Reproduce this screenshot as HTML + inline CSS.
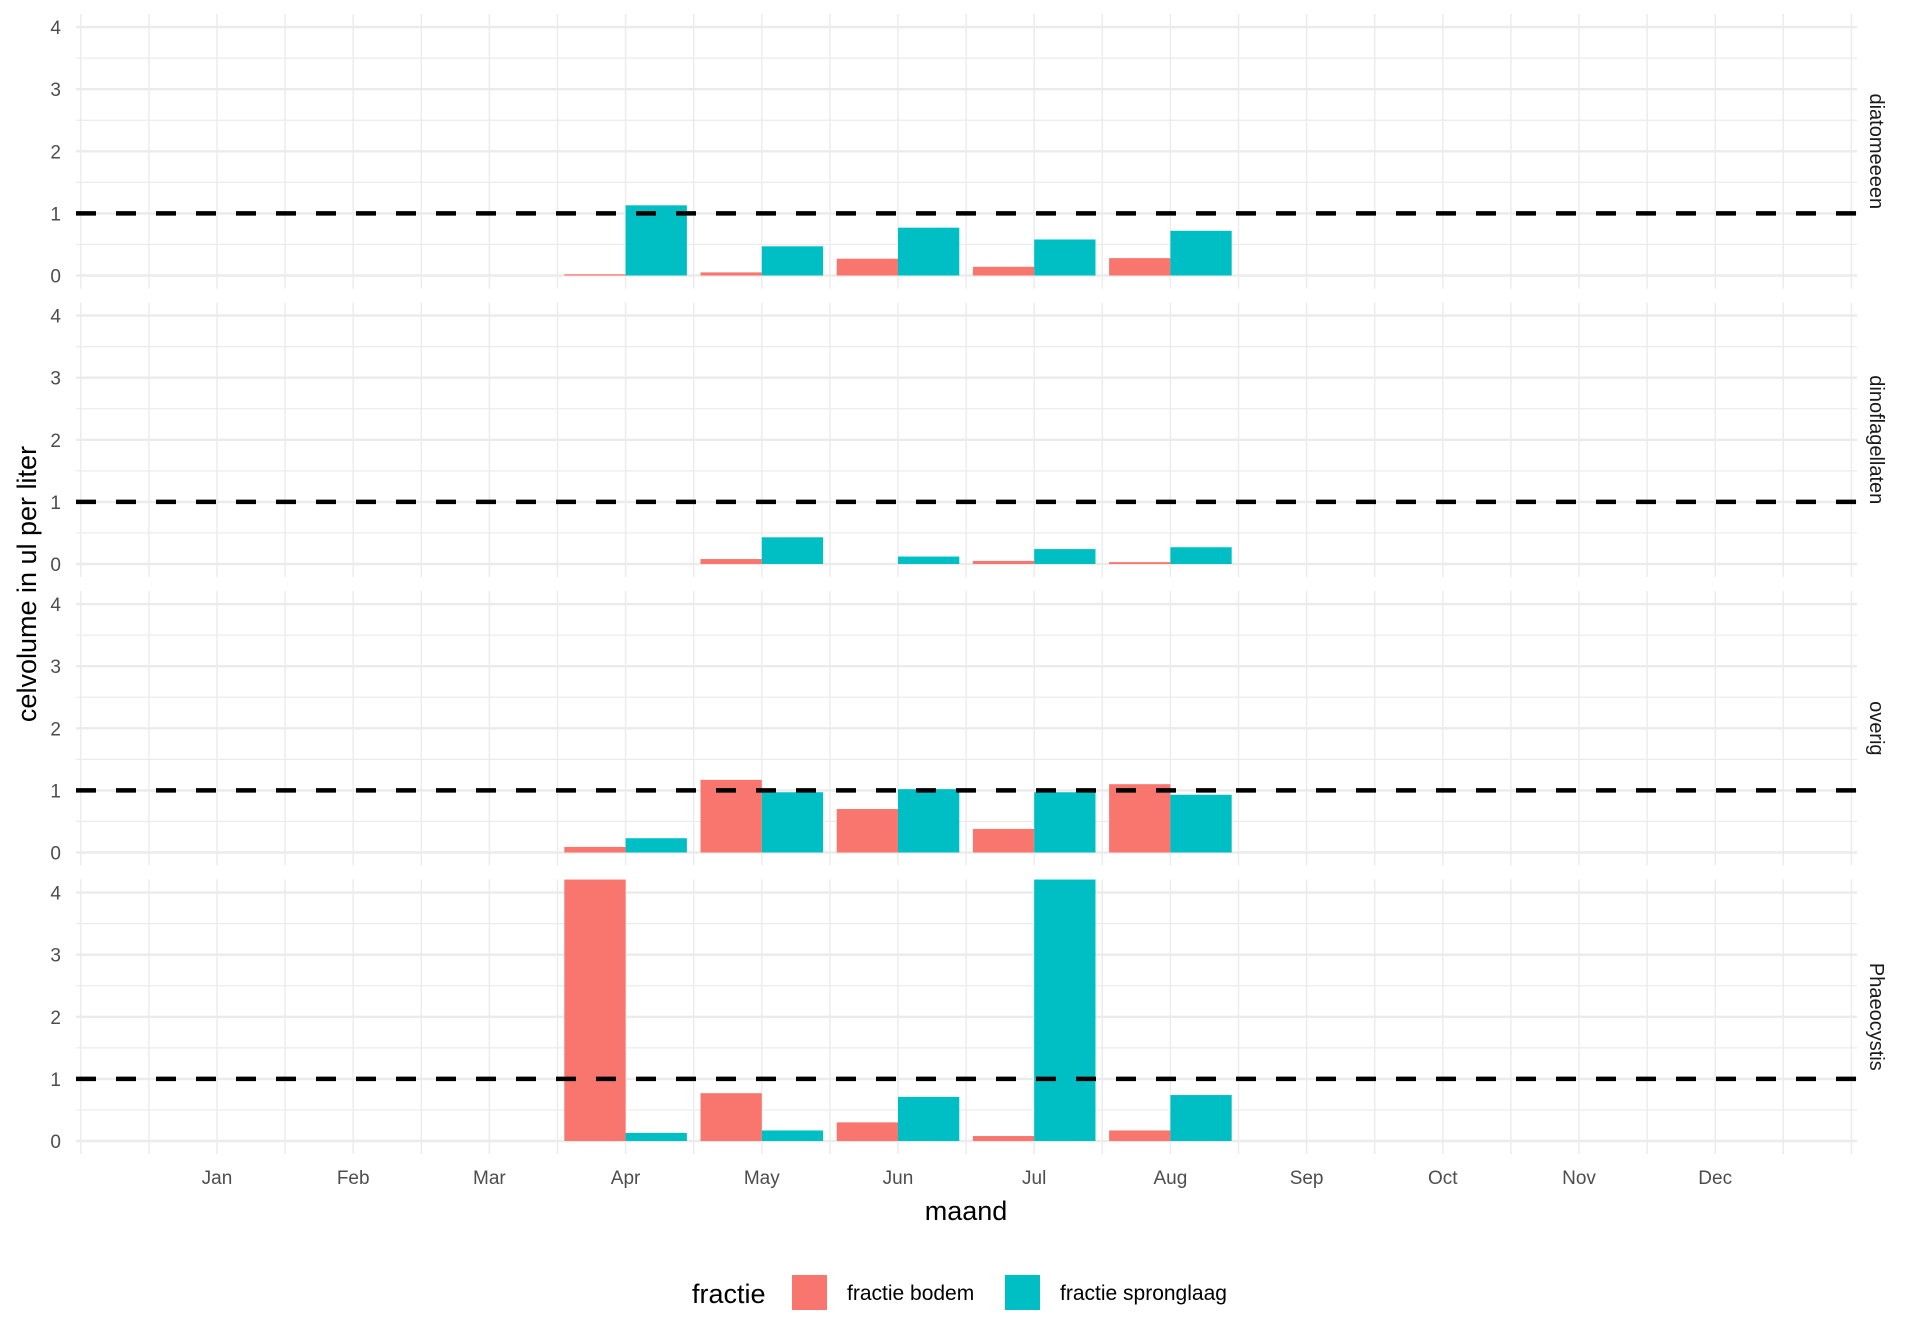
<!DOCTYPE html>
<html><head><meta charset="utf-8"><style>
body{margin:0;background:#fff;}
svg{display:block;font-family:"Liberation Sans",Arial,sans-serif;}
</style></head><body>
<svg id="chart" width="1920" height="1344" viewBox="0 0 1920 1344" xmlns="http://www.w3.org/2000/svg">
<g id="grid"></g><g id="bars"></g><g id="lines"></g><g id="labels"></g>
<text x="966" y="1220" font-size="27" text-anchor="middle" fill="#000">maand</text>
<text transform="translate(36,584) rotate(-90)" font-size="27" text-anchor="middle" fill="#000">celvolume in ul per liter</text>
<g>
<text x="692" y="1303" font-size="27" fill="#000">fractie</text>
<rect x="792" y="1275" width="35" height="35" fill="#F8766D"/>
<text x="847" y="1300" font-size="21" fill="#000">fractie bodem</text>
<rect x="1005" y="1275" width="35" height="35" fill="#00BFC4"/>
<text x="1060" y="1300" font-size="21" fill="#000">fractie spronglaag</text>
</g>
</svg>
<script>
const panels = ["diatomeeeen","dinoflagellaten","overig","Phaeocystis"];
const months = ["Jan","Feb","Mar","Apr","May","Jun","Jul","Aug","Sep","Oct","Nov","Dec"];
const barMonths = [4,5,6,7,8];
const bodemDiatomeeeen = [0.02,0.05,0.27,0.14,0.28];
const spronglaagDiatomeeeen = [1.13,0.47,0.77,0.58,0.72];
const bodemDinoflagellaten = [0,0.08,0,0.05,0.03];
const spronglaagDinoflagellaten = [0,0.43,0.12,0.24,0.27];
const bodemOverig = [0.09,1.17,0.70,0.38,1.10];
const spronglaagOverig = [0.23,0.97,1.02,0.97,0.93];
const bodemPhaeocystis = [4.21,0.77,0.30,0.08,0.17];
const spronglaagPhaeocystis = [0.13,0.17,0.71,4.21,0.74];
const yTicks = [0,1,2,3,4];
const threshold = 1;

const bodem = [bodemDiatomeeeen,bodemDinoflagellaten,bodemOverig,bodemPhaeocystis];
const sprong = [spronglaagDiatomeeeen,spronglaagDinoflagellaten,spronglaagOverig,spronglaagPhaeocystis];

const NS="http://www.w3.org/2000/svg";
const plotL=76, plotR=1857;
const xm = m => 217 + (m-1)*136.2;
const panelY0 = i => 275.5 + i*288.5;
const unit = 62.1;
const ym = (i,v) => panelY0(i) - v*unit;
function mk(tag, attrs, parent){const e=document.createElementNS(NS,tag);for(const k in attrs)e.setAttribute(k,attrs[k]);parent.appendChild(e);return e;}
const grid=document.getElementById('grid'), bars=document.getElementById('bars'), lines=document.getElementById('lines'), labels=document.getElementById('labels');

panels.forEach((p,i)=>{
  const top = ym(i,4.21), bot = ym(i,-0.21);
  for(let v=0; v<=4.001; v+=0.5){
    const major = Math.abs(v-Math.round(v))<1e-6;
    const l=mk('line',{x1:plotL,x2:plotR,y1:ym(i,v),y2:ym(i,v),stroke:'#ebebeb','stroke-width':major?2.4:1.2},grid);
    
    
  }
  for(let m=0; m<=13.001; m+=0.5){
    const l=mk('line',{x1:xm(m),x2:xm(m),y1:top,y2:bot,stroke:'#ebebeb','stroke-width':1.4},grid);
    
    
  }
  yTicks.forEach(t=>{
    const tx=mk('text',{x:61,y:ym(i,t)+7,'font-size':19,'text-anchor':'end',fill:'#4d4d4d'},labels);
    tx.textContent=t;
    
    
  });
  const st=mk('text',{transform:`translate(1870,${(top+bot)/2}) rotate(90)`,'font-size':20,'text-anchor':'middle',fill:'#1a1a1a'},labels);
  st.textContent=p;
  
  
  barMonths.forEach((m,j)=>{
    const bw=0.45*136.2;
    const vb=bodem[i][j], vs=sprong[i][j];
    if(vb>0){
      const r=mk('rect',{x:xm(m)-bw,y:ym(i,vb),width:bw,height:vb*unit,fill:'#F8766D'},bars);
      
      
    }
    if(vs>0){
      const r=mk('rect',{x:xm(m),y:ym(i,vs),width:bw,height:vs*unit,fill:'#00BFC4'},bars);
      
      
    }
  });
  const d=mk('line',{x1:plotL,x2:plotR,y1:ym(i,threshold),y2:ym(i,threshold),stroke:'#000','stroke-width':4.5,'stroke-dasharray':'20 20'},lines);
  
  
});
months.forEach((mn,k)=>{
  const t=mk('text',{x:xm(k+1),y:1184,'font-size':19,'text-anchor':'middle',fill:'#4d4d4d'},labels);
  t.textContent=mn;
  
  
});
</script>
</body></html>
